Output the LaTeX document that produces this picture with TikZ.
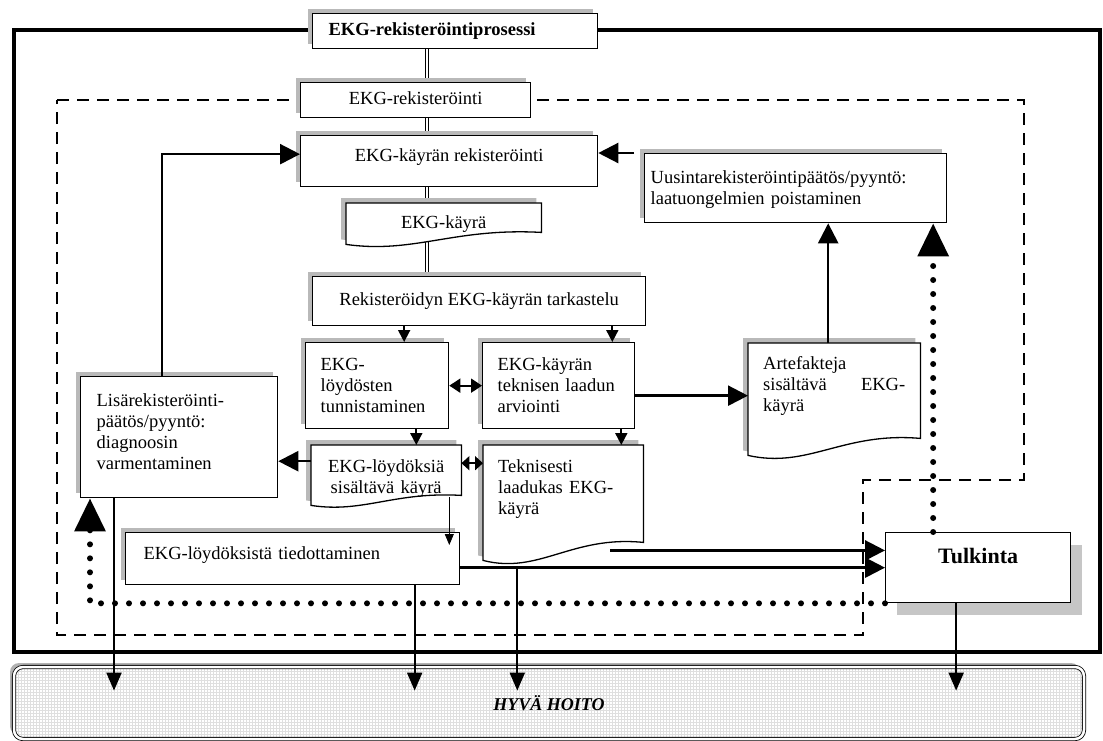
\documentclass[tikz,border=0pt]{standalone}
\usepackage{fontspec}
\setmainfont{Liberation Serif}
\usetikzlibrary{arrows.meta, calc, shadows, patterns, backgrounds}
\newcommand{\fs}{\fontsize{18.5}{21}\selectfont}
\newcommand{\docpath}[2]{%
  \draw[docline] (#1.north west) -- (#1.north east) -- ($(#1.south east)+(0,-#2)$)
    .. controls ($(#1.south west)!0.55!(#1.south east)+(0,-1.4*#2)$)
    and ($(#1.south west)!0.35!(#1.south east)+(0,0.8*#2)$) .. (#1.south west) -- cycle;}

\begin{document}
\begin{tikzpicture}[x=1pt,y=-1pt,
    box/.style={draw,line width=1.3pt,fill=white,anchor=north west,font=\fs,text height=13pt},
    doc/.style={anchor=north west,font=\fs,text height=13pt},
    sh/.style={drop shadow={shadow xshift=-5pt,shadow yshift=5pt,fill=gray!55,opacity=1}},
    docline/.style={draw,line width=1.3pt,fill=white,sh},
    frame/.style={line width=4pt},
    dashline/.style={line width=2pt,dash pattern=on 12pt off 8pt},
    spineline/.style={double,double distance=2pt,line width=1pt},
    arr/.style={line width=2.4pt,-{Triangle[length=20pt,width=20pt]}},
    small/.style={line width=1.8pt,-{Triangle[length=12pt,width=12pt]}},
    thinarr/.style={line width=0.8pt,-{Triangle[length=11pt,width=9pt]}},
    dbl/.style={line width=1.8pt,{Triangle[length=#1,width=14pt]}-{Triangle[length=#1,width=14pt]}},
    dbl/.default=11pt,
    down/.style={line width=2pt,-{Triangle[length=18pt,width=15pt]},shorten >=-24pt},
    dots/.style={line width=6pt,line cap=round,dash pattern=on 0pt off 14pt,-{Triangle[length=33pt,width=30pt]}},
    hoito/.style={draw,line width=0.8pt,double=white,double distance=2.5pt,rounded corners=9pt,
      minimum width=1070pt,minimum height=72pt,
      drop shadow={shadow xshift=-4pt,shadow yshift=4pt,fill=gray!60,opacity=1},
      preaction={fill=white},pattern=grid,pattern color=gray!25,
      font=\fontsize{18}{21}\selectfont\bfseries\itshape}]
  \useasboundingbox (0,0) rectangle (1103,740);

  \node[box,sh,font=\fs\bfseries,text width=253pt,inner xsep=16pt,inner ysep=9pt,text depth=4pt,align=left] (proc) at (312,13) {EKG-rekisteröintiprosessi};
  \node[box,sh,minimum width=230pt,inner ysep=9pt,text depth=4pt] (rek) at (300,82) {EKG-rekisteröinti};
  \node[box,sh,minimum width=297pt,inner ysep=12.5pt,text depth=13pt] (krek) at (300,135) {EKG-käyrän rekisteröinti};
  \node[doc,minimum width=195pt,inner ysep=12.5pt,text depth=3pt] (kayra) at (346,203) {EKG-käyrä};
  \node[box,sh,minimum width=333pt,inner ysep=16pt,text depth=4pt] (tark) at (312,276) {Rekisteröidyn EKG-käyrän tarkastelu};
  \node[box,sh,text width=113pt,inner xsep=15pt,inner ysep=14.5pt,text depth=44pt,align=left] (loyd) at (305,342) {EKG-\\löydösten\\tunnistaminen};
  \node[box,sh,text width=122pt,inner xsep=15pt,inner ysep=14.5pt,text depth=44pt,align=left] (arvi) at (482,342) {EKG-käyrän\\teknisen laadun\\arviointi};
  \node[doc,text width=142pt,inner xsep=15pt,inner ysep=13.5pt,text depth=72pt,align=left] (arte) at (748,343) {Artefakteja\\sisältävä\hfill EKG-\\käyrä};
  \node[box,sh,text width=290pt,inner xsep=6pt,inner ysep=16.5pt,text depth=23pt,align=left] (uusi) at (644,153) {Uusintarekisteröintipäätös/pyyntö:\\laatuongelmien poistaminen};
  \node[box,sh,text width=165pt,inner xsep=16pt,inner ysep=16.5pt,text depth=75pt,align=left] (lisa) at (80,376) {Lisärekisteröinti-\\päätös/pyyntö:\\diagnoosin\\varmentaminen};
  \node[doc,text width=150pt,inner xsep=0pt,inner ysep=14.5pt,text depth=18pt,align=center] (loydk) at (311,445) {EKG-löydöksiä\\sisältävä käyrä};
  \node[doc,text width=130pt,inner xsep=15pt,inner ysep=14.5pt,text depth=73pt,align=left] (tekn) at (483,445) {Teknisesti\\laadukas EKG-\\käyrä};
  \node[box,sh,text width=298pt,inner xsep=18pt,inner ysep=13.5pt,text depth=12pt,align=left] (tied) at (125,532) {EKG-löydöksistä tiedottaminen};
  \node[box,minimum width=185pt,font=\bfseries\fontsize{22}{26}\selectfont,text height=16pt,inner ysep=15pt,text depth=24pt,
    drop shadow={shadow xshift=11pt,shadow yshift=-12pt,fill=gray!45,opacity=1}] (tulk) at (885,532) {Tulkinta};
  \node[hoito] (hoito) at (549,703) {HYVÄ HOITO};

  \begin{pgfonlayer}{background}
    \draw[frame] (14,30) rectangle (1100,652);
    \draw[dashline] (57,100) -- (1024,100) -- (1024,480) -- (863,480) -- (863,635) -- (57,635) -- cycle;
    \coordinate (spine) at (427,0);
    \draw[spineline] (proc.south -| spine) -- (tark.north -| spine);
    \docpath{kayra}{12}
    \docpath{arte}{17}
    \docpath{loydk}{10}
    \docpath{tekn}{18}
  \end{pgfonlayer}

  \draw[arr] ([xshift=-17pt]lisa.north) |- ([yshift=7pt]krek.west);
  \draw[arr] ([xshift=-10pt]uusi.north west) -- (krek.east |- uusi.north west);
  \draw[arr] ([xshift=-6pt]arte.north) -- ([xshift=-6pt]arte.north |- uusi.south);
  \draw[dots] ([xshift=-45pt]tulk.north) -- ([xshift=-45pt]tulk.north |- uusi.south);

  \coordinate (d1) at ($(loyd.north)+(27,0)$);
  \coordinate (d2) at ($(arvi.north east)+(-23,0)$);
  \coordinate (d3) at ($(loyd.south east)+(-33,0)$);
  \coordinate (d4) at ($(arvi.south east)+(-14,0)$);
  \draw[small] (d1 |- tark.south) -- (d1);
  \draw[small] (d2 |- tark.south) -- (d2);
  \draw[small] (d3) -- (d3 |- loydk.north);
  \draw[small] (d4) -- (d4 |- tekn.north);

  \coordinate (d5) at ($(loydk.east)+(0,-12)$);
  \coordinate (d6) at ($(arvi.east)+(0,10)$);
  \coordinate (d7) at ($(loydk.west)+(0,-14)$);
  \draw[dbl] (loyd.east) -- (arvi.west);
  \draw[dbl=8pt] (d5) -- (d5 -| tekn.west);
  \draw[arr] (d6) -- (d6 -| arte.west);
  \draw[arr] (d7) -- (d7 -| lisa.east);

  \coordinate (d8) at ($(tied.north east)+(-11,13)$);
  \coordinate (d9) at (d8 |- loydk.south);
  \draw[thinarr] ($(d9)+(0,-8)$) -- (d8);

  \coordinate (d10) at ($(tekn.south east)+(-33,-10)$);
  \draw[arr] (d10) -- (d10 -| tulk.west);
  \draw[arr] (tied.east |- tulk.west) -- (tulk.west);

  \coordinate (j1) at ($(lisa.south west)+(34,0)$);
  \coordinate (j2) at ($(tied.south)+(122,0)$);
  \coordinate (j3) at ($(tied.east |- tulk.west)+(57,0)$);
  \coordinate (j4) at ($(tulk.south)+(-22,0)$);
  \draw[down] (j1) -- (j1 |- hoito.north);
  \draw[down] (j2) -- (j2 |- hoito.north);
  \draw[down] (j3) -- (j3 |- hoito.north);
  \draw[down] (j4) -- (j4 |- hoito.north);

  \draw[dots] (tulk.south west) -| ($(lisa.south west)+(10,0)$);
\end{tikzpicture}
\end{document}
